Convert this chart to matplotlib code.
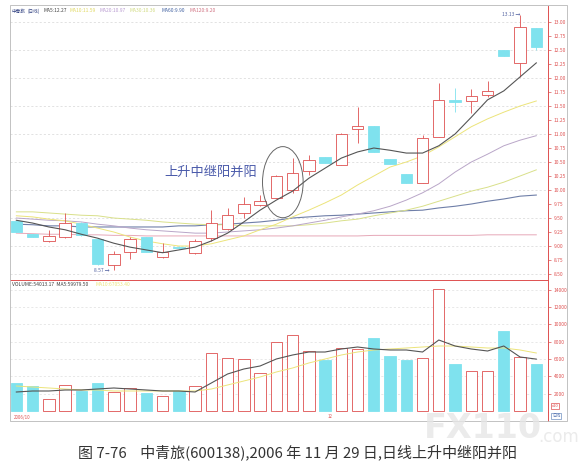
import numpy as np
import matplotlib
matplotlib.use("Agg")
import matplotlib.pyplot as plt
from matplotlib.patches import Ellipse, Rectangle

plt.rcParams['font.family'] = ['Noto Sans CJK SC', 'DejaVu Sans']

# daily candles, 中青旅 600138
opens = [9.45, 9.21, 9.09, 9.16, 9.41, 9.12, 8.66, 8.89, 9.16, 8.80, 8.98, 8.88, 9.14,
         9.30, 9.59, 9.73, 9.86, 10.00, 10.34, 10.59, 10.45, 11.09, 11.14, 10.55, 10.29,
         10.12, 10.95, 11.60, 11.59, 11.70, 12.50, 12.27, 12.89]
highs = [9.45, 9.21, 9.29, 9.59, 9.43, 9.12, 8.91, 9.16, 9.16, 9.05, 9.00, 9.13, 9.64,
         9.68, 9.88, 9.91, 10.27, 10.57, 10.63, 10.59, 11.02, 11.48, 11.14, 10.55, 10.29,
         10.98, 11.91, 11.82, 11.80, 11.95, 12.50, 13.13, 12.89]
lows = [9.25, 9.16, 9.07, 9.14, 9.18, 8.66, 8.57, 8.77, 8.89, 8.78, 8.95, 8.86, 9.09,
        9.29, 9.50, 9.71, 9.86, 9.95, 10.27, 10.48, 10.45, 10.84, 10.68, 10.46, 10.12,
        10.12, 10.95, 11.39, 11.38, 11.66, 12.39, 12.02, 12.50]
closes = [9.25, 9.16, 9.18, 9.41, 9.20, 8.68, 8.86, 9.12, 8.89, 8.89, 8.96, 9.09, 9.41,
          9.55, 9.75, 9.80, 10.25, 10.30, 10.54, 10.48, 11.00, 11.14, 10.68, 10.46, 10.12,
          10.93, 11.61, 11.58, 11.68, 11.77, 12.39, 12.91, 12.55]

ma5 = [9.46, 9.41, 9.34, 9.29, 9.21, 9.14, 9.05, 8.98, 8.93, 8.88, 8.93, 8.98, 9.09,
       9.23, 9.43, 9.64, 9.82, 9.98, 10.21, 10.39, 10.57, 10.68, 10.75, 10.71, 10.66,
       10.66, 10.79, 11.00, 11.30, 11.61, 11.77, 12.02, 12.27]
ma10 = [9.54, 9.52, 9.48, 9.45, 9.39, 9.32, 9.25, 9.16, 9.09, 9.04, 9.00, 9.00, 9.04,
        9.11, 9.18, 9.29, 9.39, 9.52, 9.64, 9.77, 9.91, 10.09, 10.25, 10.41, 10.50,
        10.61, 10.77, 10.95, 11.13, 11.27, 11.39, 11.50, 11.59]
ma20 = [9.50, 9.48, 9.46, 9.45, 9.43, 9.39, 9.36, 9.32, 9.29, 9.27, 9.25, 9.23, 9.23,
        9.25, 9.27, 9.29, 9.32, 9.36, 9.41, 9.46, 9.52, 9.57, 9.63, 9.71, 9.82,
        9.95, 10.11, 10.32, 10.50, 10.64, 10.79, 10.89, 10.97]
ma30 = [9.61, 9.61, 9.59, 9.57, 9.55, 9.54, 9.50, 9.48, 9.46, 9.43, 9.41, 9.39, 9.38,
        9.38, 9.36, 9.36, 9.36, 9.36, 9.38, 9.41, 9.45, 9.48, 9.54, 9.59, 9.64,
        9.71, 9.80, 9.89, 9.98, 10.05, 10.14, 10.25, 10.36]
ma60 = [9.39, 9.38, 9.36, 9.36, 9.34, 9.34, 9.34, 9.34, 9.34, 9.34, 9.36, 9.36, 9.38,
        9.39, 9.41, 9.43, 9.46, 9.50, 9.52, 9.54, 9.55, 9.57, 9.59, 9.61, 9.63,
        9.64, 9.68, 9.71, 9.75, 9.80, 9.84, 9.89, 9.91]
ma120 = [9.23, 9.22, 9.21, 9.21, 9.20, 9.20, 9.19, 9.19, 9.18, 9.18, 9.18, 9.18, 9.18,
         9.18, 9.18, 9.18, 9.18, 9.18, 9.18, 9.18, 9.18, 9.18, 9.19, 9.19, 9.19,
         9.19, 9.19, 9.19, 9.19, 9.20, 9.20, 9.20, 9.20]

# volume (x10 lots)
volume = [3240, 2890, 1390, 3010, 2310, 3240, 2200, 2660, 2080, 1730, 2310, 2890, 6700,
          6130, 6010, 4390, 7980, 8790, 6940, 5900, 7280, 7170, 8440, 6360, 5900,
          6130, 14100, 5430, 4620, 4620, 9250, 6240, 5400]
vol_ma5 = [2196, 2312, 2312, 2428, 2428, 2543, 2659, 2543, 2428, 2312, 2312, 2196, 3237,
           4277, 4855, 5202, 6011, 6474, 6820, 6820, 7167, 7398, 7167, 7052, 7052,
           6820, 8208, 7514, 7167, 6936, 7514, 6243, 5998]
vol_ma10 = [2890, 2774, 2659, 2543, 2428, 2428, 2312, 2312, 2312, 2312, 2312, 2312, 2543,
            3006, 3468, 3930, 4508, 4971, 5549, 6011, 6474, 6820, 7052, 7167, 7283,
            7398, 7514, 7514, 7398, 7283, 7283, 7052, 6705]

price_ticks = np.arange(8.5, 13.01, 0.25)
vol_ticks = [2000, 4000, 6000, 8000, 10000, 12000, 14000]

W, H = 584, 467
RED = '#de5050'
CYAN = '#7fe2ee'


def rect(l, t, r, b):
    return [l / W, 1 - b / H, (r - l) / W, (b - t) / H]


def ftext(x, y, s, **kw):
    fig.text(x / W, 1 - y / H, s, **kw)


fig = plt.figure(figsize=(W / 100, H / 100), dpi=100)
x = np.arange(len(closes))
up = [c >= o for o, c in zip(opens, closes)]

# ---- price panel
ax = fig.add_axes(rect(10, 6, 548, 279))
ax.set_xlim(-0.39, 32.72)
ax.set_ylim(8.411, 13.286)
for g in np.arange(8.5, 13.01, 0.5):
    ax.axhline(g, color='#d6d6d6', lw=0.5, ls=(0, (3, 3)), zorder=0)

wick_col = [RED if u else CYAN for u in up]
ax.vlines(x, lows, highs, colors=wick_col, lw=0.6, zorder=2)
bottoms = [min(o, c) for o, c in zip(opens, closes)]
heights = [max(abs(c - o), 0.015) for o, c in zip(opens, closes)]
ax.bar(x, heights, 0.7, bottom=bottoms,
       color=['white' if u else CYAN for u in up],
       edgecolor=[RED if u else CYAN for u in up], lw=0.6, zorder=3)

ax.plot(x, ma120, color='#e6a8b8', lw=0.7, zorder=1)
ax.plot(x, ma60, color='#6f7fa8', lw=0.8, zorder=1)
ax.plot(x, ma30, color='#d9e08a', lw=0.7, zorder=1)
ax.plot(x, ma20, color='#b9a6c8', lw=0.7, zorder=1)
ax.plot(x, ma10, color='#ece47a', lw=0.7, zorder=1)
ax.plot(x, ma5, color='#555555', lw=0.8, zorder=4)

ax.add_patch(Ellipse((16.4, 10.14), 2.5, 1.27, fill=False, ec='#666666', lw=0.7, zorder=5))
ax.text(11.98, 10.32, '上升中继阳并阳', fontsize=9.5, color='#4a5aaa', ha='center', va='center')
ax.text(4.75, 8.57, '8.57 →', fontsize=3.5, color='#5060a0', ha='left', va='center')
ax.text(29.9, 13.13, '13.13 →', fontsize=3.5, color='#5060a0', ha='left', va='center')

ax.yaxis.tick_right()
ax.set_yticks(price_ticks)
ax.set_yticklabels([f'{t:.2f}' for t in price_ticks])
ax.tick_params(axis='y', labelsize=3.5, colors=RED, length=2, width=0.5, pad=2)
ax.set_xticks([])
for s in ['top', 'left', 'bottom']:
    ax.spines[s].set_visible(False)
ax.spines['right'].set_color(RED)
ax.spines['right'].set_linewidth(0.7)

# ---- volume panel
axv = fig.add_axes(rect(10, 280, 548, 412))
axv.set_xlim(-0.39, 32.72)
axv.set_ylim(-116, 15144)
for g in vol_ticks:
    axv.axhline(g, color='#dedede', lw=0.5, ls=(0, (3, 3)), zorder=0)
axv.bar(x, volume, 0.7,
        color=['white' if u else CYAN for u in up],
        edgecolor=[RED if u else CYAN for u in up], lw=0.6, zorder=2)
axv.plot(x, vol_ma10, color='#ece47a', lw=0.7, zorder=3)
axv.plot(x, vol_ma5, color='#555555', lw=0.8, zorder=4)
axv.yaxis.tick_right()
axv.set_yticks(vol_ticks)
axv.set_yticklabels([str(v) for v in vol_ticks])
axv.tick_params(axis='y', labelsize=3.5, colors=RED, length=2, width=0.5, pad=2)
axv.set_xticks([])
axv.spines['left'].set_visible(False)
for s in ['top', 'right', 'bottom']:
    axv.spines[s].set_color(RED)
    axv.spines[s].set_linewidth(0.7)

# ---- date strip
axd = fig.add_axes(rect(10, 412, 548, 421))
axd.set_xlim(-0.39, 32.72)
axd.set_xticks([])
axd.set_yticks([])
for s in axd.spines.values():
    s.set_visible(False)
axd.spines['right'].set_visible(True)
axd.spines['right'].set_color(RED)
axd.spines['right'].set_linewidth(0.7)
ftext(14, 417, '2006/10', fontsize=3.2, color=RED, va='center')
ftext(328, 417, '12', fontsize=3.2, color=RED, va='center')
ftext(552, 406, 'x10', fontsize=3.0, color=RED, va='center',
      bbox=dict(boxstyle='square,pad=0.15', fc='white', ec=RED, lw=0.5))
ftext(552, 416, '日线', fontsize=3.0, color='#5070b0', va='center',
      bbox=dict(boxstyle='square,pad=0.15', fc='white', ec='#7090c0', lw=0.5))

# outer frame
fig.add_artist(Rectangle((10 / W, 1 - 421 / H), 557 / W, 416 / H, transform=fig.transFigure,
                         fill=False, ec='#b8b8b8', lw=0.6))

# legends
ftext(12, 11, '中青旅', fontsize=3.3, color='#304080', va='center')
ftext(28, 11, '(日线)', fontsize=3.3, color='#304080', va='center')
ftext(43, 11, 'MA5:12.27', fontsize=3.5, color='#404040', va='center')
ftext(70, 11, 'MA10:11.59', fontsize=3.5, color='#e0d860', va='center')
ftext(100, 11, 'MA20:10.97', fontsize=3.5, color='#b89ad0', va='center')
ftext(130, 11, 'MA30:10.36', fontsize=3.5, color='#d0da80', va='center')
ftext(162, 11, 'MA60:9.90', fontsize=3.5, color='#4060a0', va='center')
ftext(190, 11, 'MA120:9.20', fontsize=3.5, color='#d07080', va='center')
ftext(12, 285, 'VOLUME:54013.17  MA5:59979.50', fontsize=3.6, color='#404040', va='center')
ftext(96, 285, 'MA10:67053.40', fontsize=3.6, color='#ece47a', va='center')

# watermark
ftext(424, 428, 'FX110', fontsize=24, fontweight='bold', color='#e6e6e6', alpha=0.8,
      va='center', family='DejaVu Sans')
ftext(538, 437, '.com', fontsize=12, color='#e6e6e6', alpha=0.8, va='center',
      family='DejaVu Sans')

# caption
ftext(297, 452, '图 7-76    中青旅(600138),2006 年 11 月 29 日,日线上升中继阳并阳',
      fontsize=10.8, color='#333333', ha='center', va='center')

fig.savefig('out.png', dpi=100)
